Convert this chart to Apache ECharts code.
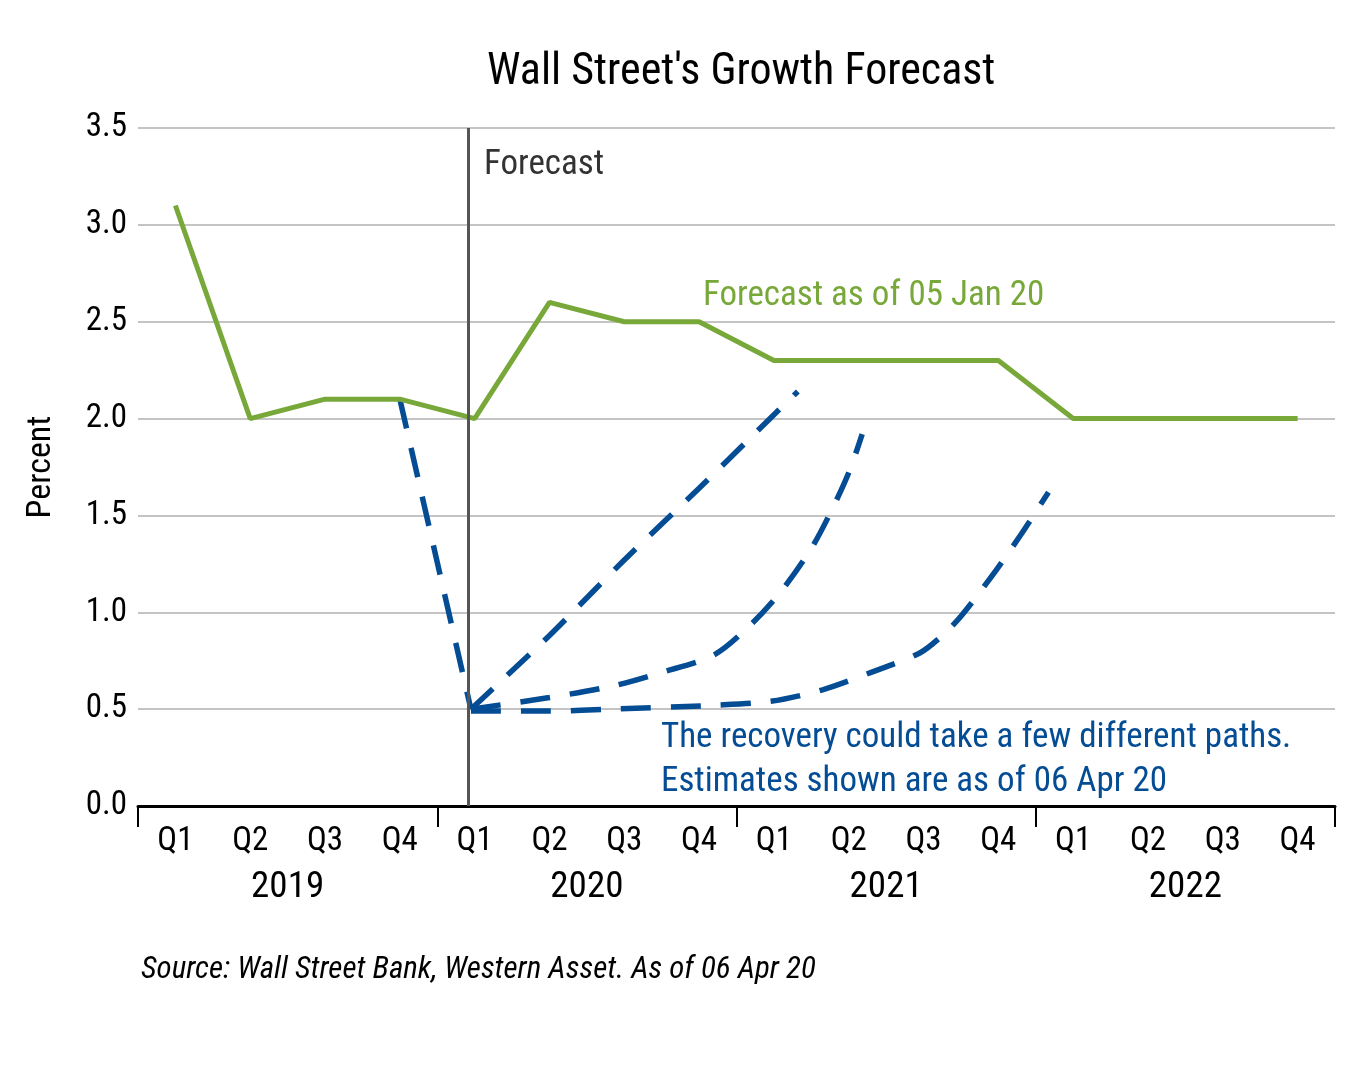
<!DOCTYPE html>
<html>
<head>
<meta charset="utf-8">
<title>Wall Street's Growth Forecast</title>
<script src="https://cdn.jsdelivr.net/npm/echarts@6/dist/echarts.min.js"></script>
<style>
  html, body { margin: 0; padding: 0; background: #fff; }
  #chart { width: 1368px; height: 1065px; }
</style>
</head>
<body>
<div id="chart"></div>
<script>
var FONT = "'Liberation Sans Narrow', 'Roboto Condensed', 'Noto Sans', sans-serif";

// category labels
var quarters = ['Q1', 'Q2', 'Q3', 'Q4', 'Q1', 'Q2', 'Q3', 'Q4', 'Q1', 'Q2', 'Q3', 'Q4', 'Q1', 'Q2', 'Q3', 'Q4'];
var years = ['2019', '2020', '2021', '2022'];

// forecast as of 05 Jan 20, one value per quarter
var forecastJan = [3.1, 2.0, 2.1, 2.1, 2.0, 2.6, 2.5, 2.5, 2.3, 2.3, 2.3, 2.3, 2.0, 2.0, 2.0, 2.0];

// recovery paths as of 06 Apr 20, [quarter position, percent] (0 = start of 2019 Q1)
var pathDrop = [[3.5, 2.1], [4.45, 0.5]];
var pathFast = [[4.45, 0.5], [5.5, 0.88], [6.5, 1.27], [7.5, 1.64], [8.5, 2.02], [8.82, 2.14]];
var pathMid = [[4.45, 0.5], [5.5, 0.56], [6.35, 0.62], [7.0, 0.69], [7.7, 0.78], [8.2, 0.94],
  [8.6, 1.11], [9.0, 1.33], [9.25, 1.51], [9.5, 1.72], [9.68, 1.92]];
var pathSlow = [[4.45, 0.49], [5.5, 0.49], [6.35, 0.5], [7.7, 0.52], [8.45, 0.54], [9.15, 0.6],
  [9.8, 0.69], [10.45, 0.79], [10.75, 0.88], [11.0, 0.98], [11.4, 1.18], [11.8, 1.4], [12.17, 1.62]];

// where the forecast period starts
var forecastStart = 4.42;

var GREEN = '#78a83a';
var BLUE = '#044c94';

var chart = echarts.init(document.getElementById('chart'));

var janData = [];
for (var i = 0; i < forecastJan.length; i++) {
  janData.push([i + 0.5, forecastJan[i]]);
}

function dashed(data, smooth) {
  return {
    type: 'line',
    xAxisIndex: 0,
    data: data,
    symbol: 'none',
    smooth: smooth,
    lineStyle: { color: BLUE, width: 5.5, type: [30, 20] },
    z: 3
  };
}

var option = {
  animation: false,
  backgroundColor: '#fff',
  textStyle: { fontFamily: FONT },
  title: {
    text: "Wall Street's Growth Forecast",
    left: 482,
    top: 46,
    textStyle: { fontFamily: FONT, fontSize: 44, fontWeight: 'normal', color: '#000' }
  },
  grid: { left: 138, right: 33, top: 128, bottom: 259 },
  xAxis: [
    {
      // hidden value axis the marks are drawn on
      type: 'value', min: 0, max: 16, show: false
    },
    {
      type: 'category',
      data: quarters,
      position: 'bottom',
      axisLine: { show: true, lineStyle: { color: '#000', width: 3 } },
      axisTick: { show: false },
      splitLine: { show: false },
      axisLabel: { interval: 0, margin: 19, fontSize: 33, color: '#000', fontFamily: FONT }
    },
    {
      type: 'category',
      data: years,
      position: 'bottom',
      axisLine: { show: false },
      axisTick: { show: true, length: 21, lineStyle: { color: '#000', width: 2 } },
      splitLine: { show: false },
      axisLabel: { interval: 0, margin: 63, fontSize: 37, color: '#000', fontFamily: FONT }
    }
  ],
  yAxis: {
    type: 'value',
    min: 0,
    max: 3.5,
    interval: 0.5,
    name: 'Percent',
    nameLocation: 'middle',
    nameRotate: 90,
    nameGap: 80,
    nameTextStyle: { fontSize: 34, color: '#000', fontFamily: FONT },
    axisLine: { show: false },
    axisTick: { show: false },
    splitLine: { lineStyle: { color: '#c4c4c4', width: 2 } },
    axisLabel: {
      margin: 11, fontSize: 33, color: '#000', fontFamily: FONT,
      formatter: function (v) { return v.toFixed(1); }
    }
  },
  series: [
    {
      type: 'line',
      xAxisIndex: 0,
      data: janData,
      symbol: 'none',
      lineStyle: { color: GREEN, width: 5 },
      z: 4,
      markLine: {
        silent: true,
        symbol: ['none', 'none'],
        label: { show: false },
        lineStyle: { color: '#555', width: 3, type: 'solid' },
        data: [{ xAxis: forecastStart }]
      }
    },
    dashed(pathDrop, false),
    dashed(pathFast, 0.2),
    dashed(pathMid, 0.3),
    dashed(pathSlow, 0.3)
  ],
  graphic: [
    {
      type: 'text', left: 484, top: 148,
      style: { text: 'Forecast', font: '35px ' + FONT, fill: '#333' }
    },
    {
      type: 'text', left: 703, top: 279,
      style: { text: 'Forecast as of 05 Jan 20', font: '35px ' + FONT, fill: GREEN }
    },
    {
      type: 'text', left: 661, top: 721,
      style: { text: 'The recovery could take a few different paths.', font: '35px ' + FONT, fill: BLUE }
    },
    {
      type: 'text', left: 661, top: 765,
      style: { text: 'Estimates shown are as of 06 Apr 20', font: '35px ' + FONT, fill: BLUE }
    },
    {
      type: 'text', left: 141, top: 955,
      style: { text: 'Source: Wall Street Bank, Western Asset. As of 06 Apr 20', font: 'italic 31px ' + FONT, fill: '#000' }
    }
  ]
};

chart.setOption(option);
</script>
</body>
</html>
